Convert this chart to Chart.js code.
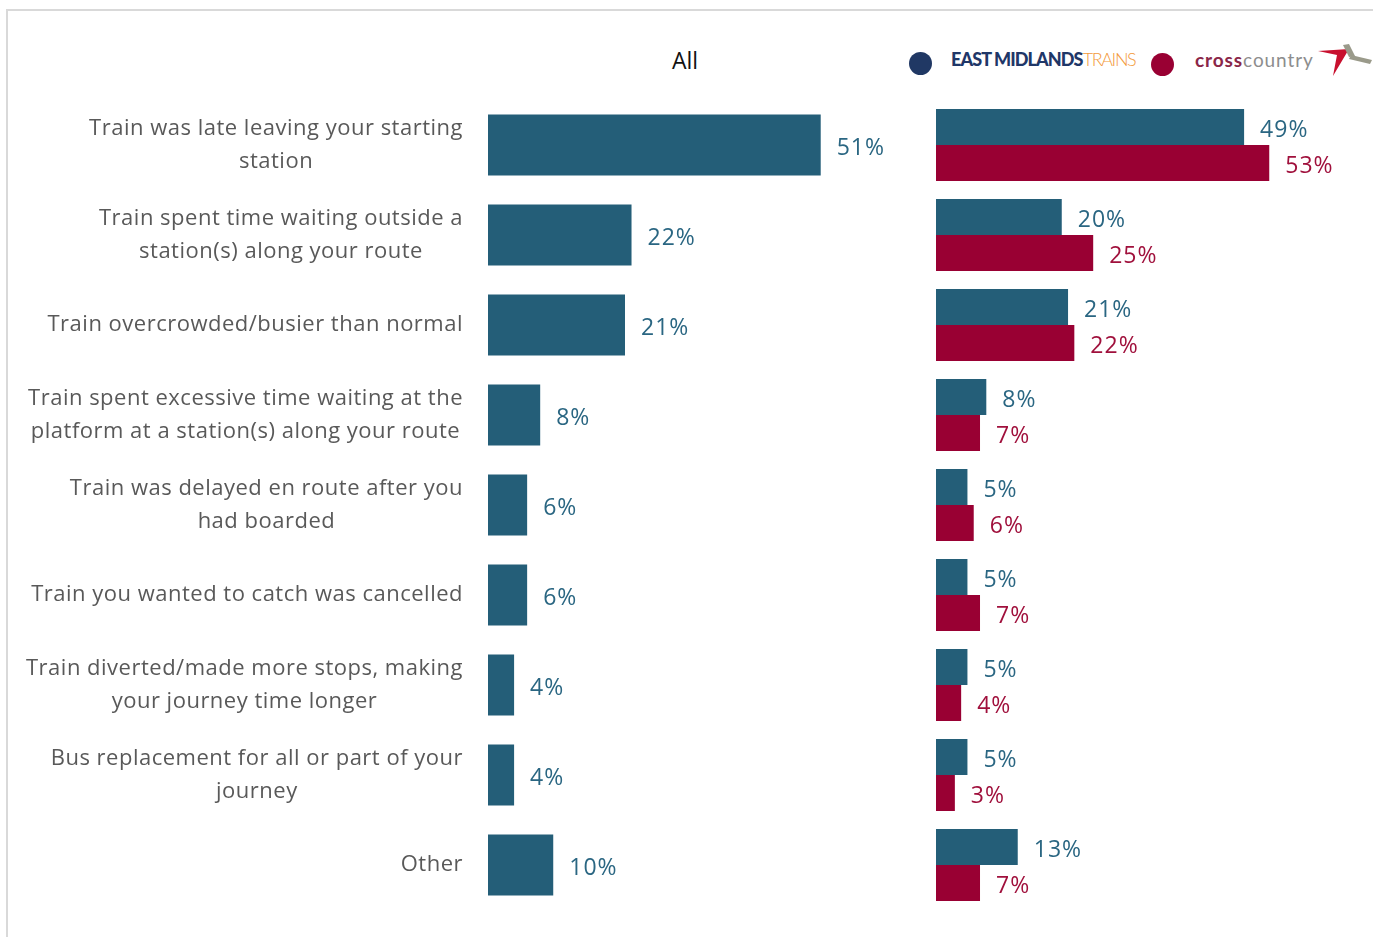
<!DOCTYPE html>
<html lang="en">
<head>
    <meta charset="UTF-8">
    <title>Reasons for delay</title>
    <script src="https://cdn.jsdelivr.net/npm/chart.js"></script>
    <style>
        body {
            margin: 0;
            background: #fff;
            font-family: "Open Sans", sans-serif;
        }

        .frame {
            position: absolute;
            left: 6px;
            top: 9px;
            width: 1367px;
            height: 928px;
            border-top: 2px solid #d9d9d9;
            border-left: 2px solid #d9d9d9;
        }

        .title {
            position: absolute;
            left: 635px;
            width: 100px;
            top: 44px;
            text-align: center;
            font-size: 23px;
            color: #111;
        }

        .dot {
            position: absolute;
            width: 23px;
            height: 23px;
            border-radius: 50%;
        }

        .emt {
            position: absolute;
            left: 951px;
            top: 48px;
            font-family: Lato, sans-serif;
            font-size: 18px;
            white-space: nowrap;
            letter-spacing: -0.9px;
        }
        .emt b { color: #1f3768; font-weight: 900; }
        .emt span { color: #f39a3b; font-weight: 300; letter-spacing: -1.4px; }

        .xc {
            position: absolute;
            left: 1195px;
            top: 48px;
            font-family: Lato, sans-serif;
            font-size: 19px;
            white-space: nowrap;
            letter-spacing: 0.9px;
        }
        .xc b { color: #8a2648; font-weight: 700; }
        .xc span { color: #8d8d8d; font-weight: 400; }

        #allChartBox { position: absolute; left: 0; top: 100px; width: 899px; height: 810px; }
        #splitChartBox { position: absolute; left: 936px; top: 100px; width: 437px; height: 810px; }
    </style>
</head>
<body>
    <div class="frame"></div>
    <div class="title">All</div>

    <div class="dot" style="left:909px; top:52px; background:#203864;"></div>
    <div class="emt"><b>EAST MIDLANDS</b><span>TRAINS</span></div>
    <div class="dot" style="left:1151px; top:53px; background:#990033;"></div>
    <div class="xc"><b>cross</b><span>country</span></div>
    <svg style="position:absolute; left:1315px; top:42px;" width="58" height="36" viewBox="0 0 58 36">
        <path d="M3 9 L34 7 L18 34 L22 13 Z" fill="#c8102e"/>
        <path d="M28 3 L34 2 L40 14 L34 15 Z" fill="#9a9a8a"/>
        <path d="M36 13 L57 18 L55 22 L34 17 Z" fill="#9a9a8a"/>
    </svg>

    <div id="allChartBox"><canvas id="allChart"></canvas></div>
    <div id="splitChartBox"><canvas id="splitChart"></canvas></div>

    <script>
        // categories and percentages
        const categories = [
            ['Train was late leaving your starting', 'station'],
            ['Train spent time waiting outside a', 'station(s) along your route'],
            ['Train overcrowded/busier than normal'],
            ['Train spent excessive time waiting at the', 'platform at a station(s) along your route'],
            ['Train was delayed en route after you', 'had boarded'],
            ['Train you wanted to catch was cancelled'],
            ['Train diverted/made more stops, making', 'your journey time longer'],
            ['Bus replacement for all or part of your', 'journey'],
            ['Other']
        ];
        const allValues = [51, 22, 21, 8, 6, 6, 4, 4, 10];
        const emtValues = [49, 20, 21, 8, 5, 5, 5, 5, 13];
        const xcValues = [53, 25, 22, 7, 6, 7, 4, 3, 7];

        const teal = '#245e78';
        const crimson = '#990033';
        const fontFamily = '"Open Sans", sans-serif';

        // draws "nn%" just past the end of every bar
        const valueLabels = {
            id: 'valueLabels',
            afterDatasetsDraw(chart) {
                const ctx = chart.ctx;
                ctx.save();
                ctx.font = '23px ' + fontFamily;
                ctx.letterSpacing = '1px';
                ctx.textBaseline = 'middle';
                ctx.textAlign = 'left';
                chart.data.datasets.forEach((ds, i) => {
                    const meta = chart.getDatasetMeta(i);
                    ctx.fillStyle = ds.labelColor;
                    meta.data.forEach((bar, j) => {
                        ctx.fillText(ds.data[j] + '%', bar.x + 16, bar.y + 3);
                    });
                });
                ctx.restore();
            }
        };

        // category text to the left of the bars, each block centred on itself
        const categoryLabels = {
            id: 'categoryLabels',
            afterDraw(chart) {
                const ctx = chart.ctx;
                const y = chart.scales.y;
                const right = chart.chartArea.left - 25;
                const lineHeight = 33;
                ctx.save();
                ctx.font = '22px ' + fontFamily;
                ctx.letterSpacing = '0.5px';
                ctx.fillStyle = '#595959';
                ctx.textAlign = 'center';
                ctx.textBaseline = 'middle';
                categories.forEach((lines, i) => {
                    const w = Math.max(...lines.map(t => ctx.measureText(t).width));
                    const cx = right - w / 2;
                    const cy = y.getPixelForValue(i);
                    const top = cy - (lines.length - 1) * lineHeight / 2;
                    lines.forEach((t, k) => ctx.fillText(t, cx, top + k * lineHeight));
                });
                ctx.restore();
            }
        };

        new Chart(document.getElementById('allChart'), {
            type: 'bar',
            data: {
                labels: categories.map(c => c.join(' ')),
                datasets: [{
                    data: allValues,
                    backgroundColor: teal,
                    labelColor: '#2a6682',
                    barPercentage: 0.68,
                    categoryPercentage: 1
                }]
            },
            options: {
                indexAxis: 'y',
                responsive: true,
                maintainAspectRatio: false,
                animation: false,
                layout: { padding: { left: 488, right: 0, top: 0, bottom: 0 } },
                plugins: { legend: { display: false }, tooltip: { enabled: false } },
                scales: {
                    x: { display: false, min: 0, max: 63 },
                    y: { display: false }
                }
            },
            plugins: [valueLabels, categoryLabels]
        });

        new Chart(document.getElementById('splitChart'), {
            type: 'bar',
            data: {
                labels: categories.map(c => c.join(' ')),
                datasets: [{
                    data: emtValues,
                    backgroundColor: teal,
                    labelColor: '#2a6682',
                    barPercentage: 1,
                    categoryPercentage: 0.8
                }, {
                    data: xcValues,
                    backgroundColor: crimson,
                    labelColor: '#a0103c',
                    barPercentage: 1,
                    categoryPercentage: 0.8
                }]
            },
            options: {
                indexAxis: 'y',
                responsive: true,
                maintainAspectRatio: false,
                animation: false,
                layout: { padding: 0 },
                plugins: { legend: { display: false }, tooltip: { enabled: false } },
                scales: {
                    x: { display: false, min: 0, max: 69.5 },
                    y: { display: false }
                }
            },
            plugins: [valueLabels]
        });
    </script>
</body>
</html>
